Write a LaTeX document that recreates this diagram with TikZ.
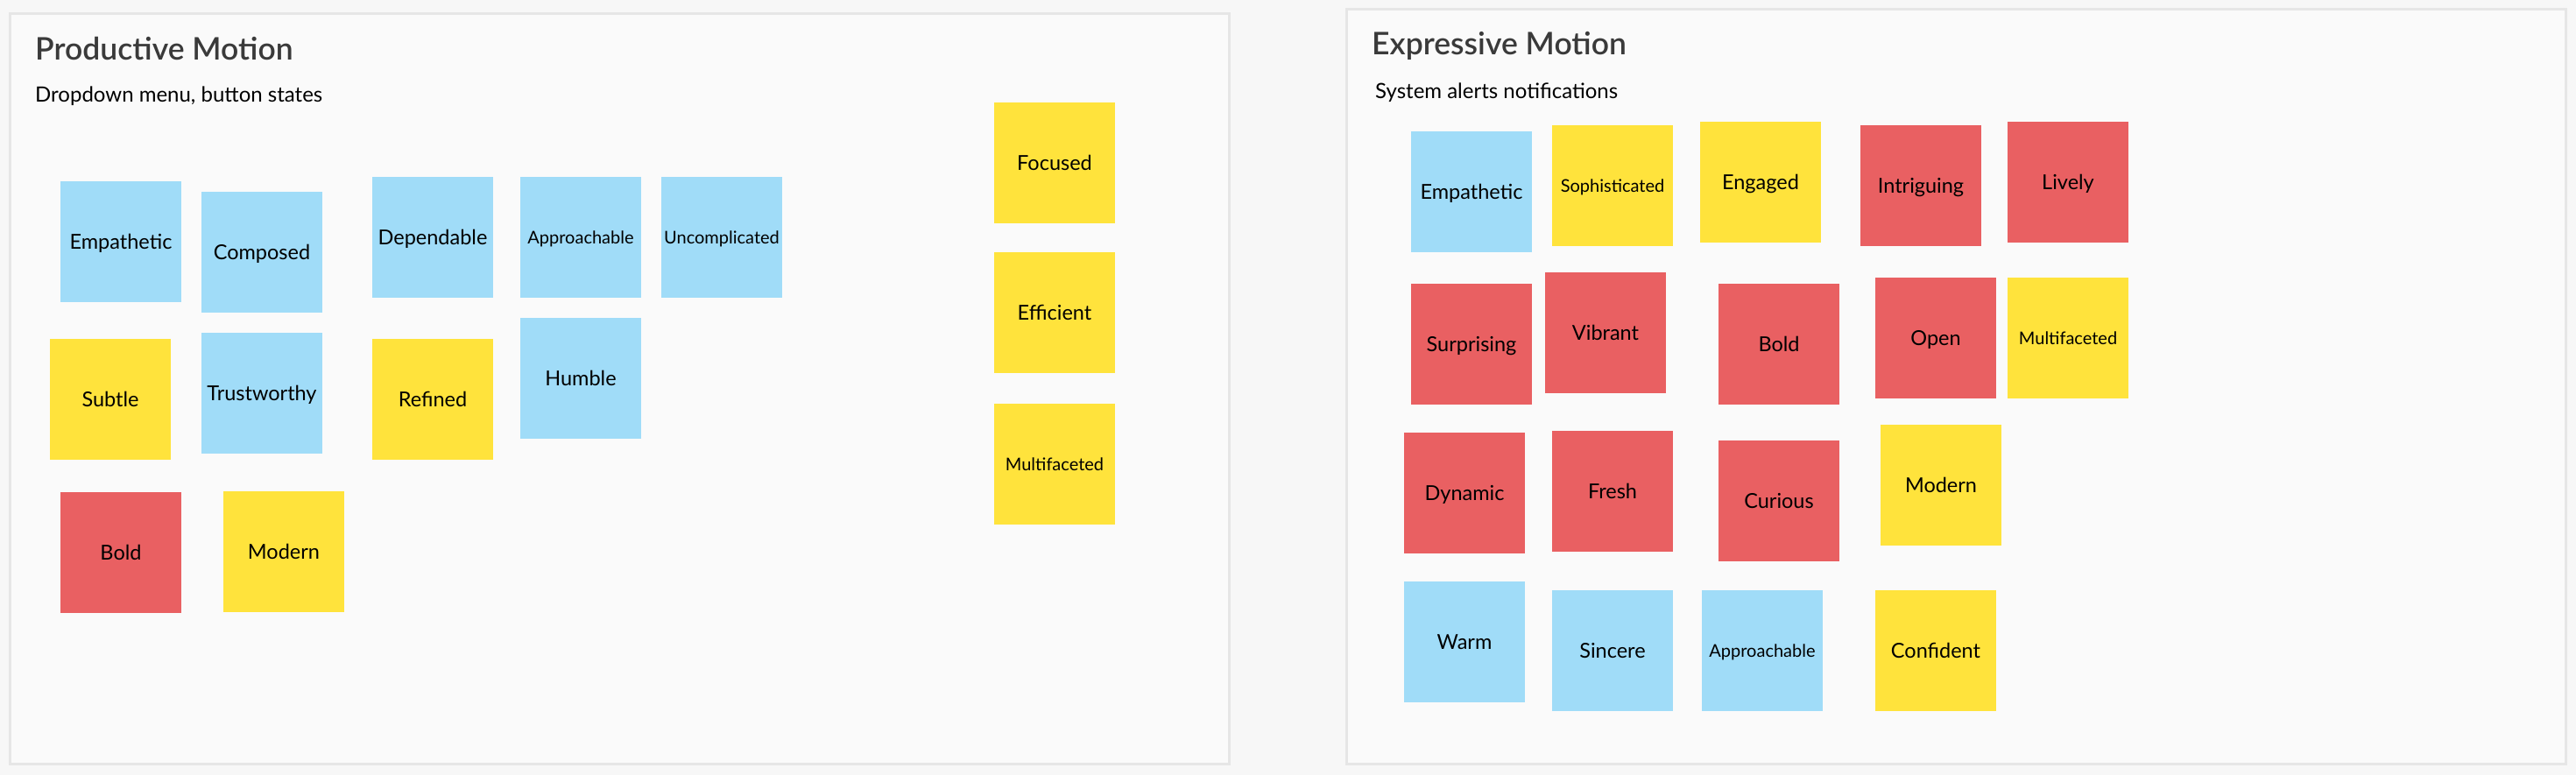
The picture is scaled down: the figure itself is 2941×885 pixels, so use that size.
\documentclass[tikz,border=0pt]{standalone}
\usepackage{fontspec}
\setmainfont{Lato}
\newfontfamily\headfont{Lato}[UprightFont=* Semibold]
\usetikzlibrary{positioning}

\definecolor{blue}{HTML}{A0DCF8}
\definecolor{yellow}{HTML}{FFE33C}
\definecolor{red}{HTML}{E96062}
\definecolor{panelline}{HTML}{E6E6E6}
\definecolor{panelfill}{HTML}{FAFAFA}
\definecolor{pagefill}{HTML}{F7F7F7}
\definecolor{titlegray}{HTML}{3A3A3A}

\tikzset{
  sticky/.style={minimum width=138pt, minimum height=138pt, inner sep=0pt, text=black,
    text height={0.72*#1}, text depth=0pt, font=\fontsize{#1}{26}\selectfont},
  panel/.style={draw=panelline, line width=3pt, fill=panelfill},
  heading/.style={anchor=base west, inner sep=0pt, text=titlegray, font=\headfont\fontsize{35.5}{40}\selectfont},
  subheading/.style={anchor=base west, inner sep=0pt, text=black, font=\fontsize{24}{28}\selectfont}
}

\begin{document}
\begin{tikzpicture}[x=1pt,y=-1pt]
  \useasboundingbox (0,0) rectangle (2941,885);
  \fill[pagefill] (0,0) rectangle (2941,885);

  % the two boards
  \draw[panel] (11,16) rectangle (1403,872);
  \draw[panel] (1537,11) rectangle (2929,872);

  % titles
  \node[heading] (pm-title) at (40,69) {Productive Motion};
  \node[subheading] (pm-sub) at (40,117) {Dropdown menu, button states};
  \node[heading] (em-title) at (1566,63) {Expressive Motion};
  \node[subheading] (em-sub) at (1570,113) {System alerts notifications};

  % productive motion stickies
  \foreach \n/\px/\py/\c/\f/\t in {
      empathetic/138/276/blue/23.5/Empathetic,
      composed/299/288/blue/23.5/Composed,
      dependable/494/271/blue/23.5/Dependable,
      approachable/663/271/blue/20/Approachable,
      uncomplicated/824/271/blue/20/Uncomplicated,
      subtle/126/456/yellow/23.5/Subtle,
      trustworthy/299/449/blue/23.5/Trustworthy,
      refined/494/456/yellow/23.5/Refined,
      humble/663/432/blue/23.5/Humble,
      bold/138/631/red/23.5/Bold,
      modern/324/630/yellow/23.5/Modern,
      focused/1204/186/yellow/23.5/Focused,
      efficient/1204/357/yellow/23.5/Efficient,
      multifaceted/1204/530/yellow/20/Multifaceted} {
    \node[sticky=\f, fill=\c] (pm-\n) at (\px,\py) {\t};
  }

  % expressive motion stickies
  \foreach \n/\px/\py/\c/\f/\t in {
      empathetic/1680/219/blue/23.5/Empathetic,
      sophisticated/1841/212/yellow/20/Sophisticated,
      engaged/2010/208/yellow/23.5/Engaged,
      intriguing/2193/212/red/23.5/Intriguing,
      lively/2361/208/red/23.5/Lively,
      surprising/1680/393/red/23.5/Surprising,
      vibrant/1833/380/red/23.5/Vibrant,
      bold/2031/393/red/23.5/Bold,
      open/2210/386/red/23.5/Open,
      multifaceted/2361/386/yellow/20/Multifaceted,
      dynamic/1672/563/red/23.5/Dynamic,
      fresh/1841/561/red/23.5/Fresh,
      curious/2031/572/red/23.5/Curious,
      modern/2216/554/yellow/23.5/Modern,
      warm/1672/733/blue/23.5/Warm,
      sincere/1841/743/blue/23.5/Sincere,
      approachable/2012/743/blue/20/Approachable,
      confident/2210/743/yellow/23.5/Confident} {
    \node[sticky=\f, fill=\c] (em-\n) at (\px,\py) {\t};
  }

\end{tikzpicture}
\end{document}
